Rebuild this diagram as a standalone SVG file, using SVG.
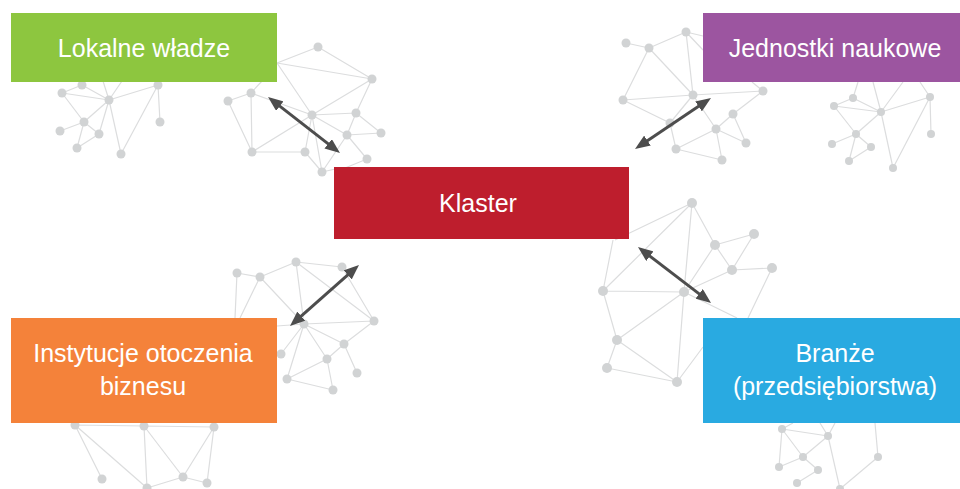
<svg xmlns="http://www.w3.org/2000/svg" width="960" height="489" viewBox="0 0 960 489">
  <style>
    .mesh { fill: none; stroke: #DCDDDE; stroke-width: 1.2; }
    .dot { fill: #D1D3D4; }
    .box-text { font-family: "Liberation Sans", Arial, sans-serif; font-size: 25px; fill: #FFFFFF; text-anchor: middle; }
    .link { stroke: #4D4D4D; stroke-width: 3; fill: none; marker-start: url(#head); marker-end: url(#head); }
  </style>
  <defs>
    <marker id="head" viewBox="0 0 15 12" markerWidth="15" markerHeight="12" refX="5" refY="6" orient="auto-start-reverse" markerUnits="userSpaceOnUse">
      <path d="M0,0 L15,6 L0,12 z" fill="#4D4D4D"/>
    </marker>
  </defs>

  <rect width="960" height="489" fill="#FFFFFF"/>

  <!-- decorative network meshes behind the boxes -->
  <g id="meshes">
    <path class="mesh" d="M62,93L82,85 M62,93L109,100 M82,85L109,100 M62,93L84,122 M109,100L158,85 M109,100L84,122 M109,100L99,134 M109,100L121,154 M84,122L60,131 M84,122L99,134 M99,134L77,148 M84,122L77,148 M158,85L160,122 M158,85L121,154 M82,85L80,81 M109,100L103,81 M109,100L122,81"/>
    <path class="mesh" d="M277,63L318,47 M318,47L372,79 M277,63L372,79 M277,63L312,115 M372,79L312,115 M372,79L356,113 M228,101L251,93 M228,101L252,152 M251,93L252,152 M251,93L312,115 M251,93L262,81 M312,115L356,113 M312,115L347,135 M312,115L252,152 M312,115L305,152 M312,115L322,172 M356,113L347,135 M356,113L381,133 M347,135L381,133 M347,135L367,159 M347,135L322,172 M252,152L305,152 M305,152L322,172 M322,172L340,168 M367,159L345,168"/>
    <path class="mesh" d="M626,43L649,48 M649,48L686,32 M686,32L703,36 M649,48L623,100 M649,48L693,95 M686,32L693,95 M623,100L693,95 M693,95L763,91 M623,100L670,123 M693,95L670,123 M693,95L716,129 M716,129L733,114 M733,114L746,143 M716,129L676,149 M716,129L722,160 M716,129L746,143 M670,123L676,149 M676,149L722,160 M763,91L733,114 M686,32L703,50 M763,91L752,82"/>
    <path class="mesh" d="M853,98L834,106 M853,98L881,112 M834,106L881,112 M834,106L856,134 M881,112L930,97 M881,112L856,134 M881,112L893,168 M930,97L931,134 M930,97L893,168 M856,134L832,144 M856,134L871,147 M856,134L849,161 M871,147L849,161 M853,98L858,82 M881,112L873,82 M881,112L903,82 M930,97L920,82"/>
    <path class="mesh" d="M692,203L615,240 M692,203L715,245 M692,203L684,292 M692,203L603,291 M715,245L754,234 M715,245L732,270 M754,234L732,270 M715,245L684,292 M732,270L772,268 M732,270L684,292 M772,268L748,318 M603,291L613,240 M603,291L684,292 M603,291L617,340 M684,292L617,340 M684,292L677,382 M684,292L737,318 M617,340L607,368 M617,340L677,382 M607,368L677,382 M677,382L703,347"/>
    <path class="mesh" d="M782,429L828,436 M782,429L803,457 M782,429L779,467 M828,436L803,457 M828,436L840,489 M803,457L779,467 M803,457L818,470 M818,470L797,483 M878,457L840,489 M878,457L875,423 M782,429L793,423 M828,436L820,423 M828,436L835,423"/>
    <path class="mesh" d="M237,273L260,277 M260,277L296,262 M296,262L342,267 M237,273L235,318 M260,277L240,318 M260,277L304,324 M296,262L304,324 M296,262L374,321 M342,267L374,321 M304,324L374,321 M304,324L277,326 M304,324L344,344 M304,324L327,359 M304,324L287,379 M304,324L281,354 M344,344L327,359 M344,344L357,373 M327,359L287,379 M327,359L333,390 M287,379L333,390 M374,321L344,344"/>
    <path class="mesh" d="M75,425L144,426 M144,426L214,427 M75,425L102,479 M75,425L147,488 M144,426L147,488 M144,426L183,477 M214,427L183,477 M214,427L207,483 M183,477L207,483 M183,477L147,488"/>

    <g class="dot">
      <circle cx="62" cy="93" r="4.5"/><circle cx="82" cy="85" r="4.5"/><circle cx="109" cy="100" r="4.5"/><circle cx="158" cy="85" r="4.5"/><circle cx="84" cy="122" r="4.5"/><circle cx="60" cy="131" r="4.5"/><circle cx="99" cy="134" r="4.5"/><circle cx="77" cy="148" r="4.5"/><circle cx="121" cy="154" r="4.5"/><circle cx="160" cy="122" r="4.5"/>
      <circle cx="318" cy="47" r="4.5"/><circle cx="372" cy="79" r="4.5"/><circle cx="228" cy="101" r="4.5"/><circle cx="251" cy="93" r="4.5"/><circle cx="312" cy="115" r="4.5"/><circle cx="356" cy="113" r="4.5"/><circle cx="347" cy="135" r="4.5"/><circle cx="381" cy="133" r="4.5"/><circle cx="252" cy="152" r="4.5"/><circle cx="305" cy="152" r="4.5"/><circle cx="367" cy="159" r="4.5"/><circle cx="322" cy="172" r="4.5"/>
      <circle cx="626" cy="43" r="4.5"/><circle cx="649" cy="48" r="4.5"/><circle cx="686" cy="32" r="4.5"/><circle cx="623" cy="100" r="4.5"/><circle cx="693" cy="95" r="4.5"/><circle cx="763" cy="91" r="4.5"/><circle cx="733" cy="114" r="4.5"/><circle cx="716" cy="129" r="4.5"/><circle cx="670" cy="123" r="4.5"/><circle cx="676" cy="149" r="4.5"/><circle cx="746" cy="143" r="4.5"/><circle cx="722" cy="160" r="4.5"/>
      <circle cx="853" cy="98" r="4"/><circle cx="834" cy="106" r="4"/><circle cx="881" cy="112" r="4"/><circle cx="930" cy="97" r="4"/><circle cx="856" cy="134" r="4"/><circle cx="832" cy="144" r="4"/><circle cx="871" cy="147" r="4"/><circle cx="849" cy="161" r="4"/><circle cx="893" cy="168" r="4"/><circle cx="931" cy="134" r="4"/>
      <circle cx="692" cy="203" r="5"/><circle cx="715" cy="245" r="5"/><circle cx="754" cy="234" r="5"/><circle cx="732" cy="270" r="5"/><circle cx="772" cy="268" r="5"/><circle cx="603" cy="291" r="5"/><circle cx="684" cy="292" r="5"/><circle cx="617" cy="340" r="5"/><circle cx="607" cy="368" r="5"/><circle cx="677" cy="382" r="5"/>
      <circle cx="782" cy="429" r="4"/><circle cx="828" cy="436" r="4"/><circle cx="803" cy="457" r="4"/><circle cx="779" cy="467" r="4"/><circle cx="818" cy="470" r="4"/><circle cx="797" cy="483" r="4"/><circle cx="878" cy="457" r="4"/><circle cx="840" cy="489" r="4"/>
      <circle cx="237" cy="273" r="4.5"/><circle cx="260" cy="277" r="4.5"/><circle cx="296" cy="262" r="4.5"/><circle cx="342" cy="267" r="4.5"/><circle cx="374" cy="321" r="4.5"/><circle cx="304" cy="324" r="4.5"/><circle cx="344" cy="344" r="4.5"/><circle cx="327" cy="359" r="4.5"/><circle cx="281" cy="354" r="4.5"/><circle cx="287" cy="379" r="4.5"/><circle cx="357" cy="373" r="4.5"/><circle cx="333" cy="390" r="4.5"/>
      <circle cx="75" cy="425" r="4.5"/><circle cx="144" cy="426" r="4.5"/><circle cx="214" cy="427" r="4.5"/><circle cx="102" cy="479" r="4.5"/><circle cx="183" cy="477" r="4.5"/><circle cx="207" cy="483" r="4.5"/><circle cx="147" cy="488" r="4.5"/>
    </g>
  </g>

  <!-- two-way links between the cluster and its partners -->
  <g id="connectors">
    <line class="link" x1="275.9" y1="103.1" x2="332.1" y2="146.9"/>
    <line class="link" x1="643.3" y1="143.4" x2="702.7" y2="103.6"/>
    <line class="link" x1="645.9" y1="253.1" x2="703.1" y2="296.9"/>
    <line class="link" x1="297.5" y1="319.4" x2="351.5" y2="271.6"/>
  </g>

  <g id="lokalne-wladze">
    <rect x="11" y="13" width="266" height="69" fill="#8DC63F"/>
    <text class="box-text" x="144" y="57">Lokalne władze</text>
  </g>

  <g id="jednostki-naukowe">
    <rect x="703" y="13" width="257" height="69" fill="#9C55A0"/>
    <text class="box-text" x="835" y="57">Jednostki naukowe</text>
  </g>

  <g id="klaster">
    <rect x="334" y="167" width="295" height="72" fill="#BE1E2D"/>
    <text class="box-text" x="478" y="212" font-size="26">Klaster</text>
  </g>

  <g id="instytucje-otoczenia-biznesu">
    <rect x="11" y="318" width="266" height="105" fill="#F4823A"/>
    <text class="box-text" x="143" y="362">Instytucje otoczenia</text>
    <text class="box-text" x="143" y="395">biznesu</text>
  </g>

  <g id="branze">
    <rect x="703" y="318" width="257" height="105" fill="#29AAE1"/>
    <text class="box-text" x="835" y="362">Branże</text>
    <text class="box-text" x="835" y="395">(przedsiębiorstwa)</text>
  </g>
</svg>
